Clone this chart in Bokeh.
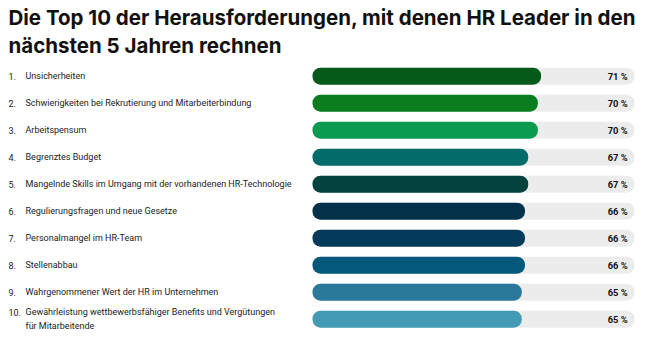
from bokeh.plotting import figure
from bokeh.models import Range1d, ColumnDataSource
from bokeh.core.properties import value
from bokeh.embed import file_html
from bokeh.resources import INLINE

title_lines = ["Die Top 10 der Herausforderungen, mit denen HR Leader in den",
               "nächsten 5 Jahren rechnen"]
ranks = ["1.", "2.", "3.", "4.", "5.", "6.", "7.", "8.", "9.", "10."]
categories = [
    "Unsicherheiten",
    "Schwierigkeiten bei Rekrutierung und Mitarbeiterbindung",
    "Arbeitspensum",
    "Begrenztes Budget",
    "Mangelnde Skills im Umgang mit der vorhandenen HR-Technologie",
    "Regulierungsfragen und neue Gesetze",
    "Personalmangel im HR-Team",
    "Stellenabbau",
    "Wahrgenommener Wert der HR im Unternehmen",
    "Gewährleistung wettbewerbsfähiger Benefits und Vergütungen\nfür Mitarbeitende",
]
values = [71, 70, 70, 67, 67, 66, 66, 66, 65, 65]
colors = ["#055a1a", "#0a7d1e", "#0a9a50", "#046b6b", "#02433f",
          "#03314a", "#043a5a", "#04587a", "#2a789a", "#439ab5"]

W, H = 667, 342
PX_PER_PCT = 3.22
X0 = 312.0
ROW0 = 75.7
ROW_H = 27.0
LINE_PX = 13.0

def px_x(px):
    return (px - X0) / PX_PER_PCT

def px_y(py):
    return 1 + (py - ROW0) / ROW_H

p = figure(width=W, height=H, output_backend="svg", toolbar_location=None,
           x_range=Range1d(px_x(0), px_x(W)), y_range=Range1d(px_y(H), px_y(0)),
           min_border=0, outline_line_color=None)
p.axis.visible = False
p.grid.visible = False
p.background_fill_color = "white"

ys = list(range(1, len(values) + 1))
rank_off = [-(c.count("\n")) * LINE_PX / 2 for c in categories]
src = ColumnDataSource(dict(
    y=ys, v=values, full=[100] * len(values), c=colors, cat=categories, r=ranks,
    roff=rank_off, lab=[f"{v} %" for v in values]))

bh = 17.0 / ROW_H
p.hbar(y="y", left=0, right="full", height=bh, source=src, fill_color="#ececec",
       line_color=None, border_radius=8)
p.hbar(y="y", left=0, right="v", height=bh, source=src, fill_color="c",
       line_color=None, border_radius=8)

lbl_font = value("Roboto")
p.text(x=px_x(8), y="y", y_offset="roff", text="r", source=src, text_font=lbl_font,
       text_font_size="9px", text_baseline="middle", text_color="#222222")
p.text(x=px_x(25), y="y", text="cat", source=src, text_font=lbl_font,
       text_font_size="9px", text_baseline="middle", text_color="#222222",
       text_line_height=1.45)
p.text(x=px_x(627), y="y", text="lab", source=src, text_font=lbl_font,
       text_font_size="9.3px", text_font_style="bold", text_align="right",
       text_baseline="middle", text_color="#111111")

p.text(x=[px_x(8), px_x(8)], y=[px_y(17), px_y(45)], text=title_lines,
       text_font=value("Inter"), text_font_size="20.5px", text_font_style="bold",
       text_baseline="middle", text_color="#111111")

open("out.html", "w").write(file_html(p, INLINE))
